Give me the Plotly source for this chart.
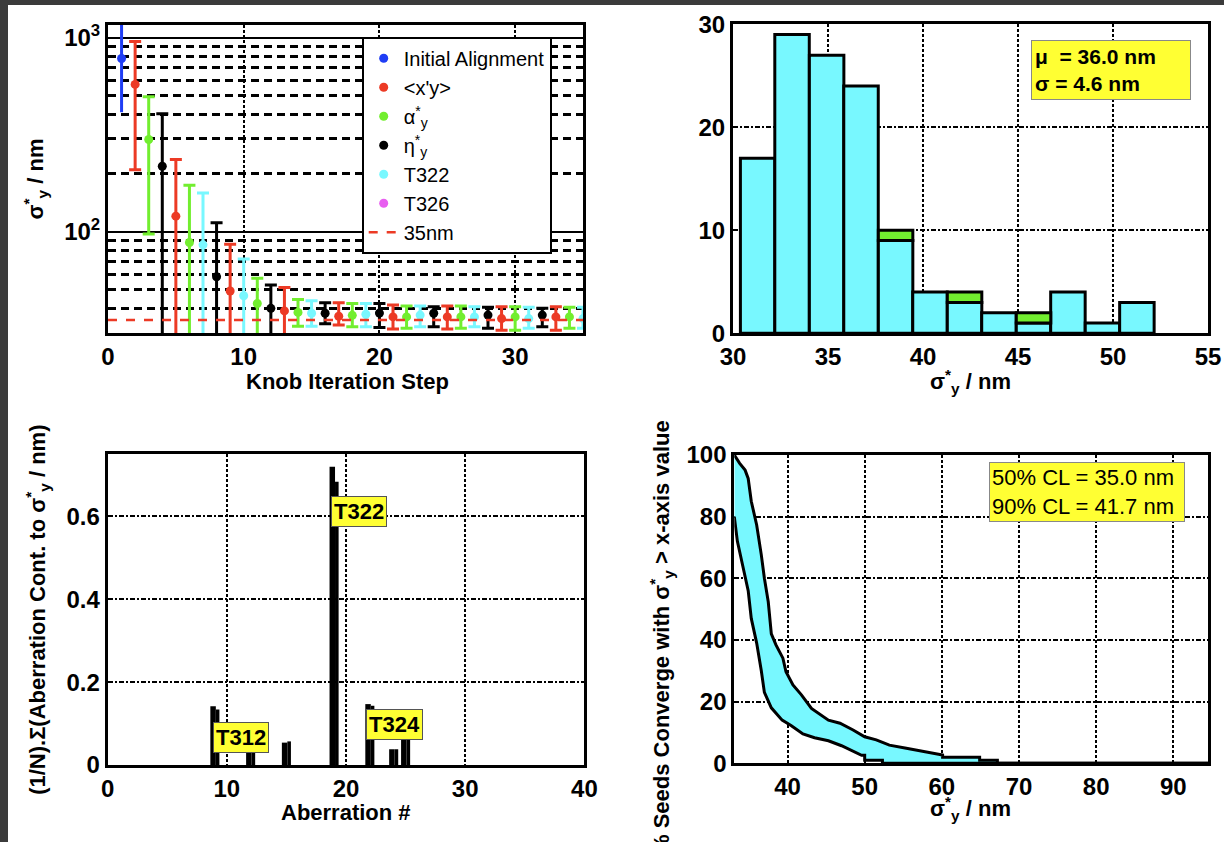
import math
import plotly.graph_objects as go

FONT = "Liberation Sans"
BLUE, RED, GREEN, BLACK, CYAN, MAG = "#1f3df5", "#ec3a25", "#72ee2f", "#000000", "#78f8ff", "#e85ef0"
YELLOW = "#ffff33"

# ---------------- top-left: knob iteration ----------------
steps = list(range(1, 36))
kinds = ["init", "xy", "alpha", "eta", "xy", "alpha", "t322", "eta", "xy", "t322",
         "alpha", "eta", "xy", "alpha", "t322",
         "eta", "xy", "alpha", "t322", "eta", "xy", "alpha", "t322", "eta", "xy",
         "alpha", "t322", "eta", "xy", "alpha", "t322", "eta", "xy", "alpha", "t322"]
sigma_med = [779, 573, 298, 217, 120, 87.8, 85.4, 58.5, 49.4, 46.7, 42.6, 40.2, 39.0, 38.3, 37.9,
             37.9, 36.6, 37.0, 37.5, 38.0, 36.3, 36.3, 37.1, 37.9, 36.3, 36.3, 36.3, 37.1, 35.6,
             36.3, 35.6, 37.1, 36.3, 36.3, 35.6]
sigma_hi = [1500, 953, 495, 405, 235, 173, 158, 111, 86, 72.2, 57.4, 53, 51.5, 44.7, 44.0,
            43.0, 43.0, 42.6, 42.6, 42.6, 41.8, 41.3, 41.3, 41.0, 41.3, 41.3, 41.0, 40.7, 41.0,
            41.0, 40.7, 40.2, 41.0, 40.7, 40.7]
sigma_lo = [412, 208, 97, 10, 10, 10, 10, 10, 10, 10, 10, 10, 10, 32.5, 32.5,
            33.5, 33.0, 32.3, 32.3, 32.0, 31.5, 31.7, 32.3, 32.3, 31.5, 31.7, 32.3, 31.7, 31.0,
            31.0, 31.7, 32.3, 31.0, 31.7, 31.7]
target_nm = 35
legend_items = [("init", "Initial Alignment", BLUE), ("xy", "&lt;x'y&gt;", RED),
                ("alpha", "α<sup>*</sup><sub>y</sub>", GREEN), ("eta", "η<sup>*</sup><sub>y</sub>", BLACK),
                ("t322", "T322", CYAN)]

# ---------------- top-right: histogram ----------------
bin_left = [30.39, 32.2, 34.02, 35.83, 37.65, 39.46, 41.28, 43.09, 44.91, 46.72, 48.54, 50.35]
bin_width = 1.815
counts_main = [17, 29, 27, 24, 9, 4, 3, 2, 1, 4, 1, 3]
counts_extra = [0, 0, 0, 0, 1, 0, 1, 0, 1, 0, 0, 0]
hist_stats = "μ  = 36.0 nm<br>σ = 4.6 nm"

# ---------------- bottom-left: aberration contributions ----------------
aber_num = [9, 12, 15, 19, 22, 24, 25]
aber_a = [0.142, 0.07, 0.054, 0.72, 0.147, 0.038, 0.065]
aber_b = [0.134, 0.07, 0.057, 0.684, 0.143, 0.038, 0.065]
aber_labels = [("T312", 11.2, 0.066), ("T322", 21.1, 0.613), ("T324", 24.08, 0.098)]

# ---------------- bottom-right: convergence ----------------
upper_x = [33.1, 33.8, 34.5, 34.9, 35.3, 36.0, 36.6, 37.0, 37.5, 37.9, 38.5, 39.4, 39.8, 40.7, 41.8,
           43.1, 45.3, 46.8, 48.5, 50.0, 51.5, 53.2, 55.4, 57.9, 60.1, 60.1, 64.9, 64.9, 67.2, 67.2, 94.5]
upper_y = [100, 97.3, 95.1, 92.4, 85, 77.3, 67.6, 60, 52.4, 42, 38.4, 34.1, 29.7, 25.4, 22.2,
           17.8, 14.0, 13.0, 10.8, 8.6, 7.6, 5.9, 4.9, 3.8, 2.7, 2.0, 2.0, 1.0, 1.0, 0, 0]
lower_x = [33.1, 33.5, 34.2, 34.9, 35.3, 36.0, 36.6, 37.0, 37.9, 39.3, 40.5, 42.0, 43.5, 45.3, 47.0,
           48.3, 49.6, 50.0, 50.0, 52.3, 52.3, 94.5]
lower_y = [80, 72, 64, 56, 47, 39, 30, 23, 18, 14, 12.2, 9.5, 8.3, 7.3, 5.7,
           4.2, 2.6, 2.6, 1.0, 1.0, 0, 0]
cl_text = "50% CL = 35.0 nm<br>90% CL = 41.7 nm"

fig = go.Figure()

for kind, name, color in legend_items:
    idx = [i for i, k in enumerate(kinds) if k == kind]
    fig.add_trace(go.Scatter(
        x=[steps[i] for i in idx], y=[sigma_med[i] for i in idx], mode="markers", name=name,
        marker=dict(size=9, color=color),
        error_y=dict(type="data", symmetric=False,
                     array=[sigma_hi[i] - sigma_med[i] for i in idx],
                     arrayminus=[sigma_med[i] - sigma_lo[i] for i in idx],
                     color=color, thickness=3, width=0 if kind == "init" else 6),
        xaxis="x", yaxis="y"))
fig.add_trace(go.Scatter(x=[None], y=[None], mode="markers", name="T326",
                         marker=dict(size=9, color=MAG), xaxis="x", yaxis="y"))
fig.add_trace(go.Scatter(x=[0, steps[-1]], y=[target_nm, target_nm], mode="lines", name="35nm",
                         line=dict(color=RED, dash="dash", width=2.5), xaxis="x", yaxis="y"))

centers = [b + bin_width / 2 for b in bin_left]
fig.add_trace(go.Bar(x=centers, y=counts_main, width=bin_width, showlegend=False,
                     marker=dict(color=CYAN, line=dict(color="black", width=3)),
                     xaxis="x2", yaxis="y2"))
fig.add_trace(go.Bar(x=centers, y=[c if c else None for c in counts_extra], base=counts_main,
                     width=bin_width, showlegend=False,
                     marker=dict(color=GREEN, line=dict(color="black", width=3)),
                     xaxis="x2", yaxis="y2"))

fig.add_trace(go.Bar(x=aber_num, y=aber_a, width=0.46, offset=-0.38, showlegend=False,
                     marker=dict(color="black", line=dict(width=0)), xaxis="x3", yaxis="y3"))
fig.add_trace(go.Bar(x=aber_num, y=aber_b, width=0.3, offset=0.08, showlegend=False,
                     marker=dict(color="black", line=dict(width=0)), xaxis="x3", yaxis="y3"))

fig.add_trace(go.Scatter(x=lower_x, y=lower_y, mode="lines", showlegend=False,
                         line=dict(color="black", width=3), xaxis="x4", yaxis="y4"))
fig.add_trace(go.Scatter(x=upper_x, y=upper_y, mode="lines", fill="tonexty", fillcolor=CYAN,
                         showlegend=False, line=dict(color="black", width=3),
                         xaxis="x4", yaxis="y4"))

W, H = 1224, 842
tickfont = dict(family=FONT, size=24, color="black", weight="bold")
titlefont = dict(family=FONT, size=22, color="black", weight="bold")
VDASH = "3px,2px"
HDASH = "5px,2px,2px,2px"


def ax(domain, **kw):
    d = dict(domain=domain, showline=True, linecolor="black", linewidth=3, mirror=True,
             showgrid=True, gridcolor="black", gridwidth=2, zeroline=False, ticks="",
             tickfont=tickfont, fixedrange=True, automargin=False)
    d.update(kw)
    return d


sig_title = "σ<sup>*</sup><sub>y</sub> / nm"
fig.update_layout(
    width=W, height=H, margin=dict(l=0, r=0, t=0, b=0, autoexpand=False),
    paper_bgcolor="#3b3b3b", plot_bgcolor="white", barmode="overlay",
    font=dict(family=FONT, color="black"),
    xaxis=ax([108 / W, 583 / W], range=[0, 35], tickvals=[0, 10, 20, 30], griddash=VDASH,
             anchor="y"),
    yaxis=ax([1 - 333 / H, 1 - 25 / H], type="log", range=[math.log10(30), math.log10(1160)],
             tickvals=[100, 1000], ticktext=["10<sup>2</sup>", "10<sup>3</sup>"], anchor="x",
             minor=dict(tickvals=[40, 50, 60, 70, 80, 90, 200, 300, 400, 500, 600, 700, 800, 900],
                        showgrid=True, gridcolor="black", gridwidth=2.5, griddash="8px,5px", ticks=""),
             title=dict(text=sig_title, font=titlefont)),
    xaxis2=ax([733 / W, 1208 / W], range=[30, 55], tickvals=[30, 35, 40, 45, 50, 55], griddash=VDASH,
              anchor="y2"),
    yaxis2=ax([1 - 333.3 / H, 1 - 24.3 / H], range=[0, 30], tickvals=[0, 10, 20, 30], griddash=HDASH,
              anchor="x2"),
    xaxis3=ax([107.6 / W, 584.4 / W], range=[0, 40], tickvals=[0, 10, 20, 30, 40], griddash=VDASH,
              anchor="y3"),
    yaxis3=ax([1 - 765 / H, 1 - 454.3 / H], range=[0, 0.75], tickvals=[0, 0.2, 0.4, 0.6],
              ticktext=["0", "0.2", "0.4", "0.6"], griddash=HDASH, anchor="x3",
              title=dict(text="(1/N).Σ(Aberration Cont. to σ<sup>*</sup><sub>y</sub> / nm)",
                         font=titlefont)),
    xaxis4=ax([734.3 / W, 1208 / W], range=[33.1, 94.5], tickvals=[40, 50, 60, 70, 80, 90],
              griddash=VDASH, anchor="y4"),
    yaxis4=ax([1 - 763.3 / H, 1 - 455 / H], range=[0, 100], tickvals=[0, 20, 40, 60, 80, 100],
              griddash=HDASH, anchor="x4"),
    legend=dict(x=361.7 / W, y=1 - 36.7 / H, xanchor="left", yanchor="top", bgcolor="white",
                bordercolor="black", borderwidth=2, font=dict(family=FONT, size=20, color="black"),
                tracegroupgap=0, itemwidth=30, traceorder="normal", entrywidth=180,
                entrywidthmode="pixels"),
    shapes=[dict(type="rect", xref="paper", yref="paper", x0=8 / W, x1=1, y0=0, y1=1 - 5 / H,
                 fillcolor="white", line=dict(width=0), layer="below")],
)

# axis titles placed as free text where the reference has them
for txt, px, py in [("Knob Iteration Step", 347, 381), (sig_title, 970, 381),
                    ("Aberration #", 346, 812), (sig_title, 970, 808)]:
    fig.add_annotation(text=txt, xref="paper", yref="paper", x=px / W, y=1 - py / H,
                       showarrow=False, xanchor="center", yanchor="middle", font=titlefont)
fig.add_annotation(text="% Seeds Converge with σ<sup>*</sup><sub>y</sub> &gt; x-axis value",
                   xref="paper", yref="paper", x=661 / W, y=1 - 637 / H, textangle=-90,
                   showarrow=False, xanchor="center", yanchor="middle",
                   font=dict(family=FONT, size=22, color="black", weight="bold"))
fig.add_annotation(text=hist_stats, xref="x2", yref="y2", x=45.7, y=28.5, xanchor="left",
                   yanchor="top", align="left", showarrow=False, bgcolor=YELLOW,
                   bordercolor="#888888", borderwidth=1, borderpad=3, width=152, height=52,
                   font=dict(family=FONT, size=21, color="black", weight="bold"))
fig.add_annotation(text=cl_text, xref="x4", yref="y4", x=66.1, y=97.8, xanchor="left",
                   yanchor="top", align="left", showarrow=False, bgcolor=YELLOW,
                   bordercolor="#888888", borderwidth=1, borderpad=2, width=190,
                   font=dict(family=FONT, size=22, color="black"))
for txt, lx, ly in aber_labels:
    fig.add_annotation(text=txt, xref="x3", yref="y3", x=lx, y=ly, showarrow=False,
                       bgcolor=YELLOW, bordercolor="#555555", borderwidth=1, borderpad=2,
                       font=dict(family=FONT, size=22, color="black", weight="bold"))

fig.write_html("out.html")
